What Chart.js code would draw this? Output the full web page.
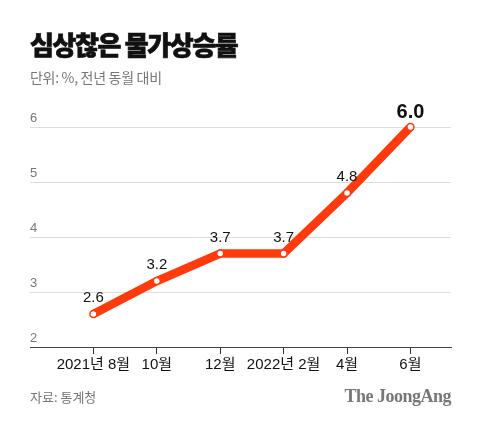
<!DOCTYPE html>
<html>
<head>
<meta charset="utf-8">
<script src="https://cdn.jsdelivr.net/npm/chart.js@4"></script>
<style>
  html, body { margin: 0; padding: 0; background: #fff; }
  body { width: 480px; height: 426px; position: relative; overflow: hidden; font-family: "Noto Sans CJK KR", "Noto Sans", sans-serif; }
  #wrap { position: absolute; left: 0; top: 0; width: 480px; height: 426px; }
  .title { position: absolute; left: 30px; top: 27px; font-size: 26px; font-weight: 900; color: #111; letter-spacing: -1.4px; line-height: 34px; -webkit-text-stroke: 0.7px #111; }
  .sub { position: absolute; left: 30px; top: 67px; font-size: 14px; color: #777; letter-spacing: -0.3px; line-height: 20px; }
  .src { position: absolute; left: 30px; top: 387px; font-size: 13px; color: #777; line-height: 20px; }
  .brand { position: absolute; right: 29px; top: 385px; font-family: "Liberation Serif", "DejaVu Serif", serif; font-weight: bold; font-size: 18px; color: #777; letter-spacing: -0.5px; line-height: 22px; }
</style>
</head>
<body>
<div id="wrap"><canvas id="c" width="480" height="426"></canvas></div>
<div class="title">심상찮은 물가상승률</div>
<div class="sub">단위: %, 전년 동월 대비</div>
<div class="src">자료: 통계청</div>
<div class="brand">The JoongAng</div>
<script>
const categories = ["2021년 8월", "10월", "12월", "2022년 2월", "4월", "6월"];
const values = [2.6, 3.2, 3.7, 3.7, 4.8, 6.0];
const valueLabels = ["2.6", "3.2", "3.7", "3.7", "4.8", "6.0"];
const yTicks = [2, 3, 4, 5, 6];

const RED = "#FF3A0C";

const labelPlugin = {
  id: "valueLabels",
  afterDatasetsDraw(chart) {
    const ctx = chart.ctx;
    const xs = chart.scales.x, ys = chart.scales.y;
    ctx.save();
    ctx.textAlign = "center";
    ctx.textBaseline = "alphabetic";
    values.forEach((v, i) => {
      const px = xs.getPixelForValue(i);
      const py = ys.getPixelForValue(v);
      const last = i === values.length - 1;
      ctx.fillStyle = "#111";
      ctx.font = last ? "bold 20px 'Liberation Sans', Arial, sans-serif" : "15px 'Liberation Sans', Arial, sans-serif";
      ctx.fillText(valueLabels[i], px, py - (last ? 9 : 12));
    });
    ctx.restore();
  }
};

new Chart(document.getElementById("c"), {
  type: "line",
  data: {
    datasets: [{
      data: values.map((v, i) => ({ x: i, y: v })),
      borderColor: RED,
      borderWidth: 8.5,
      borderJoinStyle: "miter",
      borderCapStyle: "butt",
      pointRadius: 3.5,
      pointBackgroundColor: "#fff",
      pointBorderColor: RED,
      pointBorderWidth: 1.5,
      tension: 0,
      clip: false
    }]
  },
  options: {
    responsive: false,
    animation: false,
    devicePixelRatio: 1,
    layout: { padding: { left: 30, right: 29, top: 127, bottom: 50 } },
    plugins: { legend: { display: false }, tooltip: { enabled: false }, title: { display: false } },
    scales: {
      x: {
        type: "linear",
        min: -1,
        max: 5.64,
        afterBuildTicks(scale) { scale.ticks = categories.map((_, i) => ({ value: i })); },
        grid: { display: true, drawOnChartArea: false, drawTicks: true, tickLength: 7, color: "#333", lineWidth: 1 },
        border: { display: true, color: "#444", width: 1 },
        ticks: {
          autoSkip: false,
          maxRotation: 0,
          padding: 2,
          color: "#111",
          font: { family: "'Liberation Sans', 'Noto Sans CJK KR', sans-serif", size: 15 },
          callback: (v) => categories[v]
        }
      },
      y: {
        min: 2,
        max: 6,
        afterBuildTicks(scale) { scale.ticks = yTicks.map(v => ({ value: v })); },
        grid: { color: "#dddddd", lineWidth: 1, drawTicks: false },
        border: { display: false },
        ticks: {
          mirror: true,
          padding: 0,
          labelOffset: -9,
          color: "#777",
          font: { family: "'Liberation Sans', Arial, sans-serif", size: 13 },
          callback: (v) => String(v)
        }
      }
    }
  },
  plugins: [labelPlugin]
});
</script>
</body>
</html>
